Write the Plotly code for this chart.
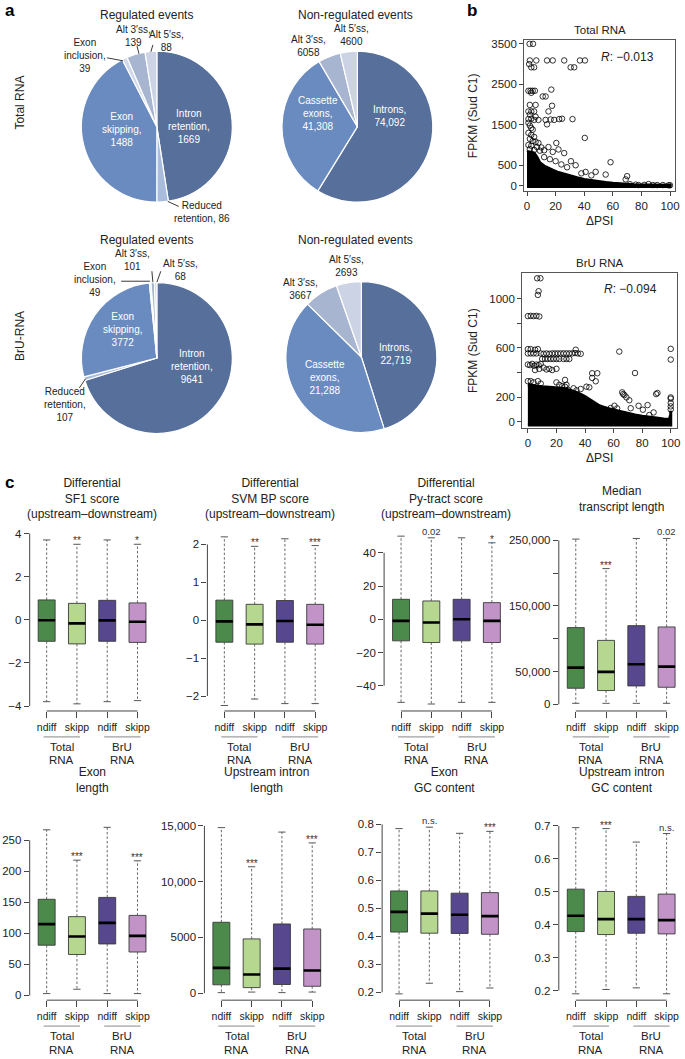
import plotly.graph_objects as go

W, H = 685, 1059
FONT = "Liberation Sans, Arial, Helvetica, sans-serif"


def PX(x):
    return x / W


def PY(y):
    return 1 - y / H


# ---------------- data: panel a (pies) ----------------
reg_labels = ["Intron retention", "Reduced retention", "Exon skipping",
              "Exon inclusion", "Alt 3′ss", "Alt 5′ss"]
reg_total = [1669, 86, 1488, 39, 139, 88]
reg_bru = [9641, 107, 3772, 49, 101, 68]
nonreg_labels = ["Introns", "Cassette exons", "Alt 3′ss", "Alt 5′ss"]
nonreg_total = [74092, 41308, 6058, 4600]
nonreg_bru = [22719, 21288, 3667, 2693]

reg_colors = ["#576f9b", "#a9bcdc", "#6a8bbf", "#d0d9ec", "#a8b5d1", "#cbd3e5"]
nonreg_colors = ["#576f9b", "#6a8bbf", "#a8b5d1", "#cbd3e5"]

# ---------------- data: panel b (scatter) ----------------
# dense (saturated) region: upper envelope of the overplotted points
total_dense_dpsi = [0, 1, 3, 5, 7, 9, 12, 15, 18, 22, 26, 30, 35, 40, 45, 50, 55, 60, 65, 70, 75, 85, 100]
total_dense_fpkm = [820, 830, 820, 800, 700, 560, 480, 420, 380, 320, 280, 230, 190, 150, 120, 95, 75, 55, 40, 25, 15, 10, 8]
total_out_dpsi = [1.8, 4.2, 2, 6.5, 14, 18, 26, 37, 40.5, 1.5, 3, 5, 30.5, 33, 1, 2.5, 4, 5.5, 3, 17,
                  11, 13, 2, 6, 17.5, 1, 3, 5, 15, 2, 6, 1, 3, 5, 8, 13, 14, 16.5, 19, 22.5, 24.5, 31.8,
                  1, 2, 3, 4, 1, 3, 5, 2, 4, 6, 8, 1, 3, 7, 10, 2, 5, 12,
                  40.4, 20.5, 15, 22, 26, 18, 9, 30.7, 34, 58.4, 41, 48, 55, 70, 69, 45, 38, 28, 24, 20, 16, 12,
                  72, 76, 78, 82, 85, 88, 91, 95, 99, 100]
total_out_fpkm = [3500, 3500, 3090, 3090, 3090, 3090, 3090, 3090, 3090, 3000, 2920, 2920, 2920, 2920, 2340, 2340, 2340, 2340, 2290, 2370,
                  2200, 2200, 1990, 1990, 1970, 1830, 1830, 1830, 1830, 1750, 1700, 1640, 1650, 1620, 1620, 1620, 1510, 1630, 1620, 1640, 1650, 1640,
                  1550, 1480, 1420, 1380, 1300, 1250, 1200, 1150, 1100, 1080, 1050, 1000, 980, 950, 940, 900, 880, 870,
                  1175, 1050, 950, 890, 800, 830, 860, 600, 500, 575, 335, 337, 270, 230, 150, 250, 300, 450, 520, 600, 650, 700,
                  30, 20, 10, 15, 35, 10, 10, 10, 5, 5]

bru_dense_dpsi = [0, 5, 10, 15, 20, 25, 30, 35, 40, 45, 50, 55, 60, 65, 70, 75, 80, 85, 90, 95, 99, 100, 100]
bru_dense_fpkm = [300, 290, 285, 280, 275, 270, 255, 235, 205, 165, 130, 110, 95, 80, 70, 55, 45, 35, 30, 22, 18, 60, 90]
bru_out_dpsi = [6.5, 8.8, 7.5, 7, 0, 2, 4, 6, 8, 0, 2, 5, 7,
                0, 2, 4, 6, 9, 11, 13, 15, 17, 19, 21, 23, 25, 27, 29, 31, 33, 35, 37,
                33.5, 64, 10, 12, 14, 16, 18, 20, 22, 25, 27, 29,
                0, 1.5, 3, 4.5, 6, 7.5, 9, 5, 8, 11, 13, 15, 17, 20,
                0, 2, 4, 7, 9, 20, 22, 24, 26, 27, 26, 28,
                45, 48.6, 45, 47.5, 41, 43, 37, 32, 34,
                75, 66, 66.7, 67.6, 69, 71, 60.6, 58, 55, 52, 62.5, 77.5, 80.5, 83.8, 88, 89.8, 90.7, 72, 85,
                100, 100, 100, 100, 100, 100, 100]
bru_out_fpkm = [1165, 1165, 1060, 1030, 858, 860, 858, 860, 855, 590, 590, 585, 590,
                555, 555, 555, 555, 555, 552, 555, 552, 555, 555, 555, 555, 555, 555, 555, 555, 558, 555, 552,
                585, 570, 510, 510, 510, 510, 510, 510, 510, 510, 510, 510,
                465, 460, 470, 455, 465, 460, 470, 420, 430, 440, 425, 430, 420, 430,
                330, 330, 320, 330, 310, 320, 300, 290, 285, 300, 340, 260,
                394, 394, 356, 329, 285, 280, 266, 272, 255,
                396, 239, 225, 217, 198, 175, 130, 112, 98, 100, 109, 130, 98, 136, 76, 225, 234, 110, 55,
                592, 505, 198, 188, 152, 125, 100]

total_R = "−0.013"
bru_R = "−0.094"

# ---------------- data: panel c (box plots) ----------------
categories = ["ndiff", "skipp", "ndiff", "skipp"]
groups = ["Total<br>RNA", "BrU<br>RNA"]
box_colors = ["#4b8a4b", "#b5d78f", "#56478f", "#c193c7"]

sf1_lower = [-3.8, -3.9, -3.8, -3.75]
sf1_q1 = [-1.0, -1.12, -1.0, -1.05]
sf1_med = [-0.02, -0.17, -0.03, -0.09]
sf1_q3 = [0.92, 0.76, 0.9, 0.78]
sf1_upper = [3.7, 3.5, 3.7, 3.5]
sf1_sig = ["", "**", "", "*"]

svm_lower = [-2.25, -2.08, -2.2, -2.2]
svm_q1 = [-0.58, -0.63, -0.58, -0.63]
svm_med = [-0.03, -0.11, -0.02, -0.12]
svm_q3 = [0.53, 0.42, 0.52, 0.42]
svm_upper = [2.2, 1.95, 2.15, 1.97]
svm_sig = ["", "**", "", "***"]

py_lower = [-50, -51, -50, -50]
py_q1 = [-13, -14, -13, -14]
py_med = [-1, -2, 0, -1]
py_q3 = [12, 11, 12, 10]
py_upper = [50, 49, 49, 46]
py_sig = ["", "0.02", "", "*"]

tl_lower = [1500, 1500, 1500, 1500]
tl_q1 = [24500, 21000, 28000, 26000]
tl_med = [56000, 49500, 61000, 57500]
tl_q3 = [117000, 97500, 120000, 118000]
tl_upper = [252000, 207000, 253000, 253000]
tl_sig = ["", "***", "", "0.02"]

el_lower = [3, 10, 3, 3]
el_q1 = [81, 66, 83, 70]
el_med = [115, 95, 117, 96]
el_q3 = [155, 127, 158, 129]
el_upper = [267, 218, 271, 217]
el_sig = ["", "***", "", "***"]

il_lower = [50, 100, 50, 100]
il_q1 = [750, 500, 780, 620]
il_med = [2270, 1680, 2200, 2040]
il_q3 = [6360, 4870, 6210, 5760]
il_upper = [14850, 11340, 14450, 13480]
il_sig = ["", "***", "", "***"]

egc_lower = [0.194, 0.232, 0.202, 0.215]
egc_q1 = [0.415, 0.411, 0.41, 0.407]
egc_med = [0.487, 0.481, 0.477, 0.472]
egc_q3 = [0.562, 0.562, 0.554, 0.556]
egc_upper = [0.785, 0.79, 0.768, 0.775]
egc_sig = ["", "n.s.", "", "***"]

igc_lower = [0.19, 0.203, 0.208, 0.19]
igc_q1 = [0.379, 0.37, 0.374, 0.372]
igc_med = [0.427, 0.417, 0.417, 0.414]
igc_q3 = [0.508, 0.501, 0.486, 0.493]
igc_upper = [0.695, 0.692, 0.651, 0.677]
igc_sig = ["", "***", "", "n.s."]

# ---------------- figure ----------------
fig = go.Figure()
annotations = []
shapes = []


def text(t, x, y, size=11, color="#222", xanchor="center", yanchor="middle", angle=0, **kw):
    annotations.append(dict(text=t, x=PX(x), y=PY(y), xref="paper", yref="paper", showarrow=False,
                            xanchor=xanchor, yanchor=yanchor, textangle=angle,
                            font=dict(family=FONT, size=size, color=color), **kw))


def seg(x0, y0, x1, y1, color="#222", width=0.9):
    shapes.append(dict(type="line", xref="paper", yref="paper", x0=PX(x0), y0=PY(y0),
                       x1=PX(x1), y1=PY(y1), line=dict(color=color, width=width)))


def fmt(v):
    return f"{v:,}" if v >= 10000 else str(v)


# panel letters
text("<b>a</b>", 3, 9, size=17, color="#000", xanchor="left")
text("<b>b</b>", 468, 9, size=17, color="#000", xanchor="left")
text("<b>c</b>", 3, 482, size=17, color="#000", xanchor="left")

# ---- pies ----
pies = [(reg_labels, reg_total, reg_colors, 158, 125, 76),
        (nonreg_labels, nonreg_total, nonreg_colors, 360, 125, 76),
        (reg_labels, reg_bru, reg_colors, 158, 357, 76),
        (nonreg_labels, nonreg_bru, nonreg_colors, 364, 356, 76)]
for labels, vals, cols, cx, cy, r in pies:
    fig.add_trace(go.Pie(labels=labels, values=vals, sort=False, direction="clockwise", rotation=0,
                         textinfo="none", showlegend=False, hoverinfo="label+value",
                         marker=dict(colors=cols, line=dict(color="white", width=1.2)),
                         domain=dict(x=[PX(cx - r), PX(cx + r)], y=[PY(cy + r), PY(cy - r)])))

PS = 10
text("Regulated events", 148, 13, size=12)
text("Non-regulated events", 358, 13, size=12)
text("Regulated events", 148, 239, size=12)
text("Non-regulated events", 358, 239, size=12)
text("Total RNA", 20, 101, size=12, angle=-90)
text("BrU-RNA", 20, 335, size=12, angle=-90)

# pie 1 labels
text(f"Intron<br>retention,<br>{reg_total[0]}", 190, 125, size=PS, color="white")
text(f"Exon<br>skipping,<br>{reg_total[2]}", 122, 128, size=PS, color="white")
text(f"Exon<br>inclusion,<br>{reg_total[3]}", 86, 54, size=PS)
text(f"Alt 3′ss,<br>{reg_total[4]}", 134, 34, size=PS)
text(f"Alt 5′ss,<br>{reg_total[5]}", 168, 39, size=PS)
text(f"Reduced<br>retention, {reg_total[1]}", 203, 211, size=PS)
seg(108, 56, 124, 59)
seg(138, 44, 140, 52)
seg(154, 43, 152, 50)
seg(169, 200, 180, 205)
# pie 2 labels
text(f"Introns,<br>{fmt(nonreg_total[0])}", 392, 114, size=PS, color="white")
text(f"Cassette<br>exons,<br>{fmt(nonreg_total[1])}", 320, 112, size=PS, color="white")
text(f"Alt 3′ss,<br>{fmt(nonreg_total[2])}", 311, 44, size=PS)
text(f"Alt 5′ss,<br>{fmt(nonreg_total[3])}", 354, 33, size=PS)
# pie 3 labels
text(f"Intron<br>retention,<br>{reg_bru[0]}", 193, 366, size=PS, color="white")
text(f"Exon<br>skipping,<br>{reg_bru[2]}", 123, 328, size=PS, color="white")
text(f"Exon<br>inclusion,<br>{reg_bru[3]}", 96, 278, size=PS)
text(f"Alt 3′ss,<br>{reg_bru[4]}", 133, 259, size=PS)
text(f"Alt 5′ss,<br>{reg_bru[5]}", 182, 269, size=PS)
text(f"Reduced<br>retention,<br>{reg_bru[1]}", 65, 404, size=PS)
seg(122, 280, 151, 280)
seg(153, 270, 154, 281)
seg(162, 270, 158, 281)
seg(80, 387, 86, 378)
# pie 4 labels
text(f"Introns,<br>{fmt(nonreg_bru[0])}", 398, 353, size=PS, color="white")
text(f"Cassette<br>exons,<br>{fmt(nonreg_bru[1])}", 327, 377, size=PS, color="white")
text(f"Alt 3′ss,<br>{fmt(nonreg_bru[2])}", 303, 288, size=PS)
text(f"Alt 5′ss,<br>{fmt(nonreg_bru[3])}", 349, 265, size=PS)

# ---- scatter plots ----
layout_axes = {}
TICKFONT = dict(family=FONT, size=11.5, color="#222")
XTICKFONT = dict(family=FONT, size=10.5, color="#222")


def scatter_panel(idx, dense_x, dense_y, out_x, out_y, xdom, ydom, xr, yr, ytv, ytt, title, rtxt, rpos):
    xa, ya = ("x", "y") if idx == 1 else (f"x{idx}", f"y{idx}")
    poly_x = dense_x + dense_x[::-1]
    poly_y = dense_y + [-25] * len(dense_x)
    fig.add_trace(go.Scatter(x=poly_x, y=poly_y, fill="toself", fillcolor="black", mode="lines",
                             line=dict(color="black", width=3), xaxis=xa, yaxis=ya,
                             showlegend=False, hoverinfo="skip"))
    fig.add_trace(go.Scatter(x=out_x, y=out_y, mode="markers", xaxis=xa, yaxis=ya, showlegend=False,
                             marker=dict(symbol="circle-open", size=5.5, color="black",
                                         line=dict(width=0.8, color="black"))))
    k = "" if idx == 1 else str(idx)
    layout_axes[f"xaxis{k}"] = dict(domain=[PX(xdom[0]), PX(xdom[1])], range=xr, anchor=ya,
                                   tickvals=[0, 20, 40, 60, 80, 100], ticks="outside", ticklen=4,
                                   tickcolor="#444", showline=True, mirror=True, linecolor="#555",
                                   linewidth=1, showgrid=False, zeroline=False, tickfont=TICKFONT)
    layout_axes[f"yaxis{k}"] = dict(domain=[PY(ydom[1]), PY(ydom[0])], range=yr, anchor=xa,
                                   tickvals=ytv, ticktext=ytt, ticks="outside", ticklen=4,
                                   tickcolor="#444", showline=True, mirror=True, linecolor="#555",
                                   linewidth=1, showgrid=False, zeroline=False, tickfont=TICKFONT)
    cx = (xdom[0] + xdom[1]) / 2
    cy = (ydom[0] + ydom[1]) / 2
    text(title, cx, ydom[0] - 10, size=11.5)
    text("FPKM (Sud C1)", 476, cy, size=12, angle=-90)
    text("ΔPSI", cx, ydom[1] + 30, size=12)
    text(f"<i>R</i>: {rtxt}", rpos[0], rpos[1], size=12)


scatter_panel(1, total_dense_dpsi, total_dense_fpkm, total_out_dpsi, total_out_fpkm,
              (528, 680), (38, 190), [-2, 103.5], [-148, 3598],
              [0, 500, 1500, 2500, 3500], ["0", "500", "1500", "2500", "3500"],
              "Total RNA", total_R, (632, 55))
scatter_panel(2, bru_dense_dpsi, bru_dense_fpkm, bru_out_dpsi, bru_out_fpkm,
              (526, 682), (272, 427), [-4, 104.4], [-48.6, 1206],
              [0, 200, 400, 600, 800, 1000], ["0", "200", "", "600", "", "1000"],
              "BrU RNA", bru_R, (635, 288))

# ---- box plots ----
ROW1 = (527, 711)
ROW2 = (818, 1001)
panels = [
    dict(title="Differential<br>SF1 score<br>(upstream–downstream)", row=ROW1, c1=47,
         s=(sf1_lower, sf1_q1, sf1_med, sf1_q3, sf1_upper, sf1_sig), rng=[-4.231, 4.277],
         tv=[-4, -2, 0, 2, 4], tt=["−4", "−2", "0", "2", "4"]),
    dict(title="Differential<br>SVM BP score<br>(upstream–downstream)", row=ROW1, c1=226,
         s=(svm_lower, svm_q1, svm_med, svm_q3, svm_upper, svm_sig), rng=[-2.395, 2.447],
         tv=[-2, -1, 0, 1, 2], tt=["−2", "−1", "0", "1", "2"]),
    dict(title="Differential<br>Py-tract score<br>(upstream–downstream)", row=ROW1, c1=404,
         s=(py_lower, py_q1, py_med, py_q3, py_upper, py_sig), rng=[-55.2, 55.2],
         tv=[-40, -20, 0, 20, 40], tt=["−40", "−20", "0", "20", "40"]),
    dict(title="Median<br>transcript length", row=ROW1, c1=580,
         s=(tl_lower, tl_q1, tl_med, tl_q3, tl_upper, tl_sig), rng=[-10200, 269700],
         tv=[0, 50000, 100000, 150000, 200000, 250000],
         tt=["0", "50,000", "", "150,000", "", "250,000"]),
    dict(title="Exon<br>length", row=ROW2, c1=47,
         s=(el_lower, el_q1, el_med, el_q3, el_upper, el_sig), rng=[-7.6, 286.5],
         tv=[0, 50, 100, 150, 200, 250], tt=["0", "50", "100", "150", "200", "250"]),
    dict(title="Upstream intron<br>length", row=ROW2, c1=223,
         s=(il_lower, il_q1, il_med, il_q3, il_upper, il_sig), rng=[-626, 15742],
         tv=[0, 5000, 10000, 15000], tt=["0", "5000", "10,000", "15,000"]),
    dict(title="Exon<br>GC content", row=ROW2, c1=402,
         s=(egc_lower, egc_q1, egc_med, egc_q3, egc_upper, egc_sig), rng=[0.1715, 0.8239],
         tv=[0.2, 0.3, 0.4, 0.5, 0.6, 0.7, 0.8], tt=["0.2", "0.3", "0.4", "0.5", "0.6", "0.7", "0.8"]),
    dict(title="Upstream intron<br>GC content", row=ROW2, c1=580,
         s=(igc_lower, igc_q1, igc_med, igc_q3, igc_upper, igc_sig), rng=[0.1706, 0.7252],
         tv=[0.2, 0.3, 0.4, 0.5, 0.6, 0.7], tt=["0.2", "0.3", "0.4", "0.5", "0.6", "0.7"]),
]

SP = 30.5
X0 = 0.44
BOXW = 0.56
for i, p in enumerate(panels):
    n = i + 3
    xa, ya = f"x{n}", f"y{n}"
    lower, q1, med, q3, upper, sig = p["s"]
    pos = [1, 2, 3, 4]
    # whiskers (dashed)
    wx, wy, cxs, cys, mx, my = [], [], [], [], [], []
    for k in range(4):
        wx += [pos[k], pos[k], None, pos[k], pos[k], None]
        wy += [q3[k], upper[k], None, q1[k], lower[k], None]
        cxs += [pos[k] - 0.12, pos[k] + 0.12, None, pos[k] - 0.12, pos[k] + 0.12, None]
        cys += [upper[k], upper[k], None, lower[k], lower[k], None]
        mx += [pos[k] - BOXW / 2, pos[k] + BOXW / 2, None]
        my += [med[k], med[k], None]
    fig.add_trace(go.Scatter(x=wx, y=wy, mode="lines", xaxis=xa, yaxis=ya, showlegend=False,
                             hoverinfo="skip", line=dict(color="#444", width=0.8, dash="2.5px,2px")))
    fig.add_trace(go.Scatter(x=cxs, y=cys, mode="lines", xaxis=xa, yaxis=ya, showlegend=False,
                             hoverinfo="skip", line=dict(color="#444", width=0.9)))
    for k in range(4):
        fig.add_trace(go.Box(x=[pos[k]], q1=[q1[k]], median=[med[k]], q3=[q3[k]],
                             lowerfence=[q1[k]], upperfence=[q3[k]], width=BOXW,
                             fillcolor=box_colors[k], line=dict(color="#3a3a3a", width=0.9),
                             whiskerwidth=0, boxpoints=False, xaxis=xa, yaxis=ya,
                             showlegend=False, name=categories[k]))
    fig.add_trace(go.Scatter(x=mx, y=my, mode="lines", xaxis=xa, yaxis=ya, showlegend=False,
                             hoverinfo="skip", line=dict(color="black", width=2.6)))
    left = p["c1"] - (1 - X0) * SP
    right = min(left + 4.12 * SP, 684)
    x1 = X0 + (right - left) / SP
    top, bot = p["row"]
    layout_axes[f"xaxis{n}"] = dict(domain=[PX(left), PX(right)], range=[X0, x1], anchor=ya,
                                   tickvals=pos, ticktext=categories, ticks="outside", ticklen=6,
                                   tickcolor="#444", showline=False, showgrid=False, zeroline=False,
                                   tickfont=XTICKFONT)
    layout_axes[f"yaxis{n}"] = dict(domain=[PY(bot), PY(top)], range=p["rng"], anchor=xa,
                                   tickvals=p["tv"], ticktext=p["tt"], ticks="outside", ticklen=5,
                                   tickcolor="#444", showline=False, showgrid=False, zeroline=False,
                                   tickfont=TICKFONT)
    # R-style axis lines
    shapes.append(dict(type="line", xref=f"{xa} domain", yref=ya, x0=0, x1=0,
                       y0=p["tv"][0], y1=p["tv"][-1], line=dict(color="#444", width=1)))
    shapes.append(dict(type="line", xref=xa, yref=f"{ya} domain", x0=1, x1=4, y0=0, y1=0,
                       line=dict(color="#444", width=1)))
    # group underlines and labels (one annotation per line for tight spacing)
    for g, (a, b) in enumerate([(0.9, 2.1), (2.9, 4.1)]):
        shapes.append(dict(type="line", xref=xa, yref="paper", x0=a, x1=b,
                           y0=PY(bot + 26), y1=PY(bot + 26), line=dict(color="#888", width=1)))
        for li, word in enumerate(groups[g].split("<br>")):
            annotations.append(dict(text=word, xref=xa, yref="paper", x=1.5 + 2 * g,
                                    y=PY(bot + 36 + 13.5 * li), yanchor="middle", showarrow=False,
                                    font=dict(family=FONT, size=11.5, color="#222")))
    # title
    annotations.append(dict(text=p["title"], xref=xa, yref="paper", x=2.5,
                            y=PY(498 if bot == ROW1[1] else 797), showarrow=False,
                            font=dict(family=FONT, size=12, color="#222")))
    # significance labels
    for k in range(4):
        if sig[k]:
            star = sig[k].startswith("*")
            annotations.append(dict(text=sig[k], xref=xa, yref=ya, x=pos[k], y=upper[k],
                                    yanchor="bottom", yshift=-4 if star else -1, showarrow=False,
                                    font=dict(family=FONT, size=10 if star else 9.5, color="#333")))

fig.update_layout(width=W, height=H, margin=dict(l=0, r=0, t=0, b=0),
                  paper_bgcolor="white", plot_bgcolor="white",
                  font=dict(family=FONT, size=11, color="#222"),
                  annotations=annotations, shapes=shapes, showlegend=False, **layout_axes)

fig.write_html("out.html", config={"displayModeBar": False},
               post_script="document.body.style.margin='0';")
